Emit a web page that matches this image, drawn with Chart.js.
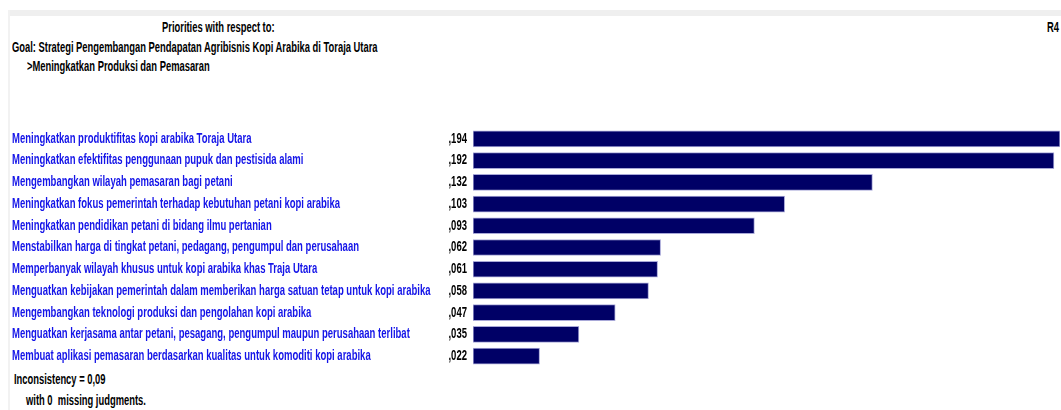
<!DOCTYPE html>
<html>
<head>
<meta charset="utf-8">
<script src="https://cdn.jsdelivr.net/npm/chart.js@4"></script>
<style>
    body { margin: 0; background: #fff; }
    #wrap { position: relative; width: 1061px; height: 410px; overflow: hidden; font-family: "Liberation Sans", Arial, sans-serif; font-size: 14px; font-weight: bold; color: #000; }
    #band { position: absolute; left: 8px; top: 10px; right: 0; height: 6px; background: #efefef; }
    #vline { position: absolute; left: 8px; top: 10px; width: 2px; bottom: 0; background: #f2f2f2; }
    .txt { position: absolute; white-space: nowrap; transform: scaleX(0.67); transform-origin: 0 0; }
    canvas { position: absolute; left: 0; top: 0; }
</style>
</head>
<body>
<div id="wrap">
    <div id="band"></div>
    <div id="vline"></div>
    <div class="txt" style="left:162px; top:19px;">Priorities with respect to:</div>
    <div class="txt" style="left:1047px; top:19px;">R4</div>
    <div class="txt" style="left:12px; top:39px;">Goal: Strategi Pengembangan Pendapatan Agribisnis Kopi Arabika di Toraja Utara</div>
    <div class="txt" style="left:27px; top:58px;">&gt;Meningkatkan Produksi dan Pemasaran</div>
    <div class="txt" style="left:14px; top:371px;">Inconsistency = 0,09</div>
    <div class="txt" style="left:26px; top:392px;">with 0&nbsp; missing judgments.</div>
    <canvas id="prioChart" width="1061" height="410"></canvas>
</div>
<script>
const criteria = [
    "Meningkatkan produktifitas kopi arabika Toraja Utara",
    "Meningkatkan efektifitas penggunaan pupuk dan pestisida alami",
    "Mengembangkan wilayah pemasaran bagi petani",
    "Meningkatkan fokus pemerintah terhadap kebutuhan petani kopi arabika",
    "Meningkatkan pendidikan petani di bidang ilmu pertanian",
    "Menstabilkan harga di tingkat petani, pedagang, pengumpul dan perusahaan",
    "Memperbanyak wilayah khusus untuk kopi arabika khas Traja Utara",
    "Menguatkan kebijakan pemerintah dalam memberikan harga satuan tetap untuk kopi arabika",
    "Mengembangkan teknologi produksi dan pengolahan kopi arabika",
    "Menguatkan kerjasama antar petani, pesagang, pengumpul maupun perusahaan terlibat",
    "Membuat aplikasi pemasaran berdasarkan kualitas untuk komoditi kopi arabika"
];
const priorities = [0.194, 0.192, 0.132, 0.103, 0.093, 0.062, 0.061, 0.058, 0.047, 0.035, 0.022];
const priorityLabels = [",194", ",192", ",132", ",103", ",093", ",062", ",061", ",058", ",047", ",035", ",022"];

const labelFont = 'bold 14px "Liberation Sans", Arial, sans-serif';
const squeeze = 0.68; // the original uses a narrow font

// criteria names on the left and priority values next to the bars,
// drawn narrow at the y scale's own tick positions
const sideLabels = {
    id: 'sideLabels',
    afterDraw(chart) {
        const ctx = chart.ctx;
        const yScale = chart.scales.y;
        const left = chart.chartArea.left;
        ctx.save();
        ctx.font = labelFont;
        ctx.textBaseline = 'middle';
        criteria.forEach((name, i) => {
            const y = yScale.getPixelForValue(i);
            ctx.save();
            ctx.translate(12, y);
            ctx.scale(squeeze, 1);
            ctx.textAlign = 'left';
            ctx.fillStyle = '#1414e8';
            ctx.fillText(name, 0, 0);
            ctx.restore();

            ctx.save();
            ctx.translate(left - 6, y);
            ctx.scale(squeeze, 1);
            ctx.textAlign = 'right';
            ctx.fillStyle = '#000';
            ctx.fillText(priorityLabels[i], 0, 0);
            ctx.restore();
        });
        ctx.restore();
    }
};

new Chart(document.getElementById('prioChart'), {
    type: 'bar',
    data: {
        labels: criteria,
        datasets: [{
            data: priorities,
            backgroundColor: '#000066',
            borderColor: '#a8a8d8',
            borderWidth: 1,
            borderSkipped: false,
            barThickness: 16
        }]
    },
    options: {
        indexAxis: 'y',
        responsive: false,
        animation: false,
        layout: { padding: { left: 12, top: 128, bottom: 43, right: 1 } },
        plugins: {
            legend: { display: false },
            tooltip: { enabled: false }
        },
        scales: {
            x: {
                display: false,
                min: 0,
                max: 0.194
            },
            y: {
                grid: { display: false, drawTicks: false },
                border: { display: false },
                afterFit(scale) { scale.width = 461; },
                ticks: { display: false }
            }
        }
    },
    plugins: [sideLabels]
});
</script>
</body>
</html>
